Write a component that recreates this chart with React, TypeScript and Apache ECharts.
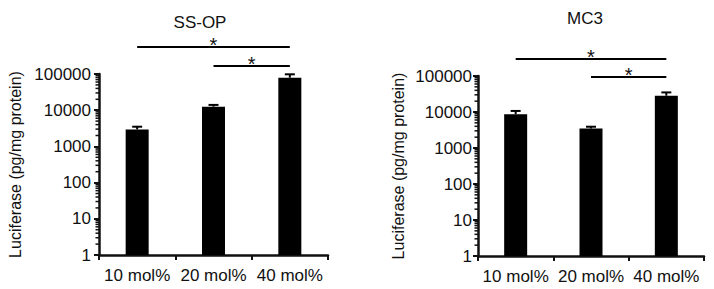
import React, { useEffect, useRef } from "react";
import * as echarts from "echarts";

const categories = ["10 mol%", "20 mol%", "40 mol%"];
const ssopMean = [2950, 12500, 79000];
const ssopUpper = [3500, 14000, 98000];
const mc3Mean = [8700, 3500, 28300];
const mc3Upper = [10700, 3900, 35000];
const yMin = 1;
const yMax = 100000;
// brackets: [fromCategory, toCategory, heightValue]
const ssopBrackets = [
  [0, 2, 560000],
  [1, 2, 166000],
];
const mc3Brackets = [
  [0, 2, 296000],
  [1, 2, 94000],
];
const panelTitles = ["SS-OP", "MC3"];
const yName = "Luciferase (pg/mg protein)";

const FONT = "'Liberation Sans', Arial, Helvetica, sans-serif";
const INK = "#111";

function minorTickValues(): number[][] {
  const out: number[][] = [];
  for (let d = yMin; d < yMax; d *= 10) {
    for (let k = 2; k <= 9; k++) out.push([0, d * k]);
  }
  return out;
}

export default function App() {
  const ref = useRef<HTMLDivElement>(null);
  useEffect(() => {
    if (!ref.current) return;
    const chart = echarts.init(ref.current, undefined, { renderer: "svg" });

    const grids = [
      { left: 99, top: 74, width: 229, height: 181 },
      { left: 478, top: 76, width: 226, height: 180 },
    ];
    const nameGaps = [76, 72];
    const labelMargins = [8, 6];
    const means = [ssopMean, mc3Mean];
    const uppers = [ssopUpper, mc3Upper];
    const brackets = [ssopBrackets, mc3Brackets];

    const xAxis: any[] = [];
    const yAxis: any[] = [];
    const series: any[] = [];

    for (let i = 0; i < 2; i++) {
      xAxis.push({
        type: "category",
        gridIndex: i,
        data: categories,
        axisLine: { lineStyle: { color: INK, width: 2.5 } },
        axisTick: { show: true, length: 5, lineStyle: { color: INK, width: 2 } },
        axisLabel: { fontSize: 17, color: INK, fontFamily: FONT, margin: 12, interval: 0 },
        splitLine: { show: false },
      });
      yAxis.push({
        type: "log",
        logBase: 10,
        gridIndex: i,
        min: yMin,
        max: yMax,
        splitNumber: 5,
        name: yName,
        nameLocation: "middle",
        nameGap: nameGaps[i],
        nameRotate: 90,
        nameTextStyle: { fontSize: 16, color: INK, fontFamily: FONT },
        axisLine: { show: true, lineStyle: { color: INK, width: 2.5 } },
        axisTick: { show: true, length: 5, lineStyle: { color: INK, width: 2 } },
        axisLabel: {
          fontSize: 17,
          color: INK,
          fontFamily: FONT,
          margin: labelMargins[i],
          formatter: (v: number) => String(Math.round(v)),
        },
        splitLine: { show: false },
      });

      series.push({
        type: "bar",
        xAxisIndex: i,
        yAxisIndex: i,
        data: means[i],
        barWidth: 23,
        itemStyle: { color: "#000" },
        z: 2,
      });

      series.push({
        type: "custom",
        xAxisIndex: i,
        yAxisIndex: i,
        data: means[i].map((m, j) => [j, m, uppers[i][j]]),
        encode: { x: 0, y: [1, 2] },
        z: 3,
        renderItem: (params: any, api: any) => {
          const c = api.value(0);
          const lo = api.coord([c, api.value(1)]);
          const hi = api.coord([c, api.value(2)]);
          const half = 5;
          return {
            type: "group",
            children: [
              {
                type: "line",
                shape: { x1: lo[0], y1: lo[1], x2: hi[0], y2: hi[1] },
                style: { stroke: "#000", lineWidth: 2 },
              },
              {
                type: "line",
                shape: { x1: hi[0] - half, y1: hi[1], x2: hi[0] + half, y2: hi[1] },
                style: { stroke: "#000", lineWidth: 2 },
              },
            ],
          };
        },
      });

      series.push({
        type: "custom",
        xAxisIndex: i,
        yAxisIndex: i,
        data: minorTickValues(),
        z: 4,
        renderItem: (params: any, api: any) => {
          const p = api.coord([0, api.value(1)]);
          const left = params.coordSys.x;
          return {
            type: "line",
            shape: { x1: left - 3.5, y1: p[1], x2: left, y2: p[1] },
            style: { stroke: INK, lineWidth: 1.5 },
          };
        },
      });

      series.push({
        type: "custom",
        xAxisIndex: i,
        yAxisIndex: i,
        clip: false,
        data: brackets[i],
        encode: { x: [0, 1], y: 2 },
        z: 5,
        renderItem: (params: any, api: any) => {
          const a = api.coord([api.value(0), api.value(2)]);
          const b = api.coord([api.value(1), api.value(2)]);
          const mid = (a[0] + b[0]) / 2;
          return {
            type: "group",
            children: [
              {
                type: "line",
                shape: { x1: a[0], y1: a[1], x2: b[0], y2: b[1] },
                style: { stroke: "#000", lineWidth: 2 },
              },
              {
                type: "text",
                x: mid,
                y: a[1] + 8,
                style: {
                  text: "*",
                  fontSize: 20,
                  fontFamily: FONT,
                  fill: INK,
                  align: "center",
                  verticalAlign: "bottom",
                },
              },
            ],
          };
        },
      });
    }

    chart.setOption({
      animation: false,
      backgroundColor: "#fff",
      grid: grids,
      xAxis,
      yAxis,
      series,
      graphic: [
        {
          type: "text",
          x: 200,
          y: 22,
          style: {
            text: panelTitles[0],
            fontSize: 17,
            fontFamily: FONT,
            fill: INK,
            align: "center",
            verticalAlign: "middle",
          },
        },
        {
          type: "text",
          x: 585,
          y: 18,
          style: {
            text: panelTitles[1],
            fontSize: 17,
            fontFamily: FONT,
            fill: INK,
            align: "center",
            verticalAlign: "middle",
          },
        },
      ],
    });

    return () => chart.dispose();
  }, []);

  return (
    <div
      ref={ref}
      style={{ position: "fixed", left: 0, top: 0, width: 714, height: 289, background: "#fff" }}
    />
  );
}
